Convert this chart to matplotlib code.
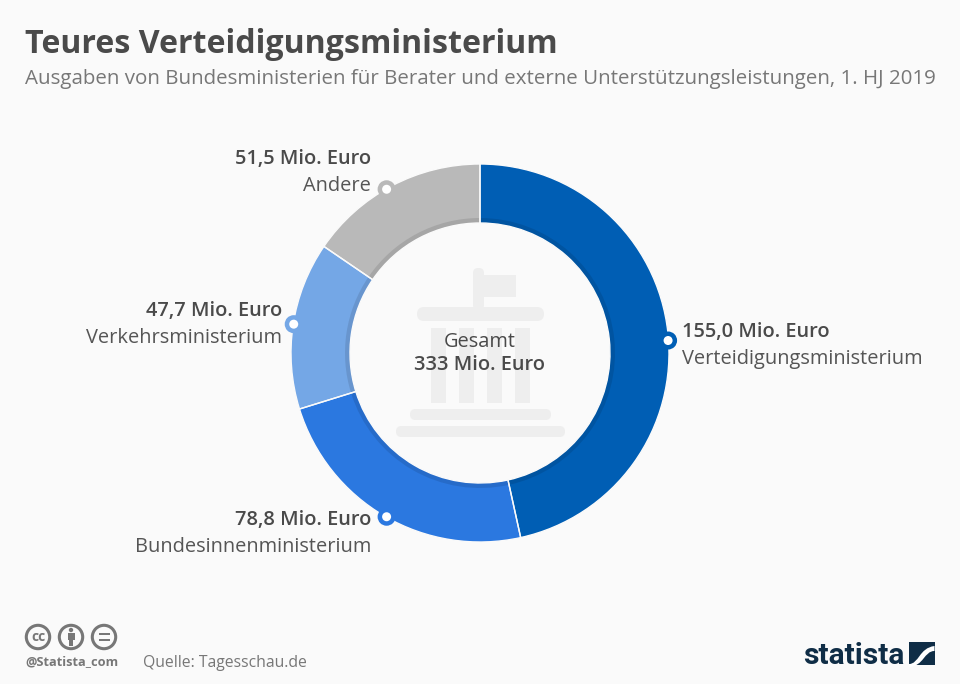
import numpy as np
import matplotlib
matplotlib.use('Agg')
import matplotlib.pyplot as plt
from matplotlib.patches import Circle, FancyBboxPatch, PathPatch, Rectangle
from matplotlib.path import Path

ministerien = ['Verteidigungsministerium', 'Bundesinnenministerium', 'Verkehrsministerium', 'Andere']
ausgaben = [155.0, 78.8, 47.7, 51.5]
ausgaben_text = ['155,0 Mio. Euro', '78,8 Mio. Euro', '47,7 Mio. Euro', '51,5 Mio. Euro']
farben = ['#005eb4', '#2b78e0', '#74a7e6', '#b9b9b9']

BG = '#fafafa'
DUNKEL = '#4a4a4a'
GRAU = '#777777'
ICON = '#eeeeee'
NAVY = '#0f2d46'

plt.rcParams['font.family'] = ['Open Sans', 'DejaVu Sans']

fig = plt.figure(figsize=(9.6, 6.84), dpi=100, facecolor=BG)
ax = fig.add_axes([0, 0, 1, 1])
ax.set_facecolor(BG)

# Pixelkoordinaten, y nach unten: startangle -90 liegt deshalb oben
cx, cy = 480, 353
ax.pie(ausgaben, colors=farben, center=(cx, cy), radius=189, startangle=-90,
       wedgeprops=dict(width=59, edgecolor='none'))
# dunkler Innenrand, liegt halbtransparent auf den Segmenten
ax.pie(ausgaben, colors=['black'] * 4, center=(cx, cy), radius=135, startangle=-90,
       wedgeprops=dict(width=5, edgecolor='none', alpha=0.1))
# weiße Trennlinien
ax.pie(ausgaben, colors=['none'] * 4, center=(cx, cy), radius=189, startangle=-90,
       wedgeprops=dict(width=59, edgecolor=BG, linewidth=1))
ax.set_xlim(0, 960)
ax.set_ylim(684, 0)
ax.axis('off')


def balken(x0, y0, x1, y1, rund=None):
    if rund is None:
        rund = (y1 - y0) / 2
    ax.add_patch(FancyBboxPatch((x0 + rund, y0 + rund), x1 - x0 - 2 * rund, y1 - y0 - 2 * rund,
                                boxstyle=f'round,pad={rund}', fc=ICON, ec='none', zorder=3))


# Gebäude-Symbol in der Mitte
balken(473, 268, 484, 310, 5)
ax.add_patch(Rectangle((484, 275), 32, 22, fc=ICON, ec='none', zorder=3))
balken(417, 307, 544, 321)
for x in [431, 459, 487, 515]:
    ax.add_patch(Rectangle((x, 328), 14.5, 75, fc=ICON, ec='none', zorder=3))
balken(410, 409, 551, 420)
balken(396, 426, 565, 437)

ax.text(480, 342, 'Gesamt', ha='center', va='center', fontsize=14.4, color=DUNKEL, zorder=5)
ax.text(480, 365, '333 Mio. Euro', ha='center', va='center', fontsize=14.4, color=DUNKEL,
        fontweight='semibold', zorder=5)

# Punkte und Beschriftungen
label_pos = [(682, 332, 'left'), (371, 520, 'right'), (282, 311, 'right'), (371, 159, 'right')]
punkt_winkel = np.deg2rad([86.2, 209.7, 278.8, 330.3])
for i, name in enumerate(ministerien):
    px = cx + 188.5 * np.sin(punkt_winkel[i])
    py = cy - 188.5 * np.cos(punkt_winkel[i])
    ax.add_patch(Circle((px, py), 9, fc=farben[i], ec='none', zorder=6))
    ax.add_patch(Circle((px, py), 4.5, fc='white', ec='none', zorder=7))
    x, y, ha = label_pos[i]
    ax.text(x, y, ausgaben_text[i], ha=ha, va='center', fontsize=14.45, color=DUNKEL, fontweight='semibold')
    ax.text(x, y + 27, name, ha=ha, va='center', fontsize=14.4, color='#555555')

ax.text(25, 44.5, 'Teures Verteidigungsministerium', ha='left', va='center', fontsize=23.15,
        fontweight='bold', color=DUNKEL)
ax.text(25, 79, 'Ausgaben von Bundesministerien für Berater und externe Unterstützungsleistungen, 1. HJ 2019',
        ha='left', va='center', fontsize=14.72, color=GRAU)

# Creative-Commons-Symbole
for x in [38, 71, 104]:
    ax.add_patch(Circle((x, 637), 11.7, fc='none', ec=GRAU, lw=2.2))
ax.text(38, 637, 'cc', ha='center', va='center', fontsize=10, fontweight='bold', color=GRAU)
ax.add_patch(Circle((71, 630), 2.2, fc=GRAU, ec='none'))
ax.add_patch(Rectangle((67.5, 633), 7, 7, fc=GRAU, ec='none'))
ax.add_patch(Rectangle((69, 640), 4, 6, fc=GRAU, ec='none'))
ax.add_patch(Rectangle((98.5, 632.5), 11, 2.6, fc=GRAU, ec='none'))
ax.add_patch(Rectangle((98.5, 638.5), 11, 2.6, fc=GRAU, ec='none'))
ax.text(25, 662, '@Statista_com', ha='left', va='center', fontsize=9.2, fontweight='bold', color=GRAU)
ax.text(143, 663, 'Quelle: Tagesschau.de', ha='left', va='center', fontsize=11.35, color=GRAU)

# Statista-Logo
ax.text(803, 656, 'statista', ha='left', va='center', fontsize=21.5, fontweight='bold',
        color=NAVY, family='Roboto')
ax.add_patch(Rectangle((909, 642), 25.5, 23, fc=NAVY, ec='none'))
welle = Path([(909, 664), (919, 664), (919, 648), (934.5, 646), (934.5, 651), (924, 651), (924, 666), (909, 667), (909, 664)],
             [Path.MOVETO, Path.CURVE4, Path.CURVE4, Path.CURVE4, Path.LINETO, Path.CURVE4, Path.CURVE4, Path.CURVE4, Path.CLOSEPOLY])
ax.add_patch(PathPatch(welle, fc='white', ec='none'))

fig.savefig('out.png', dpi=100, facecolor=BG)
